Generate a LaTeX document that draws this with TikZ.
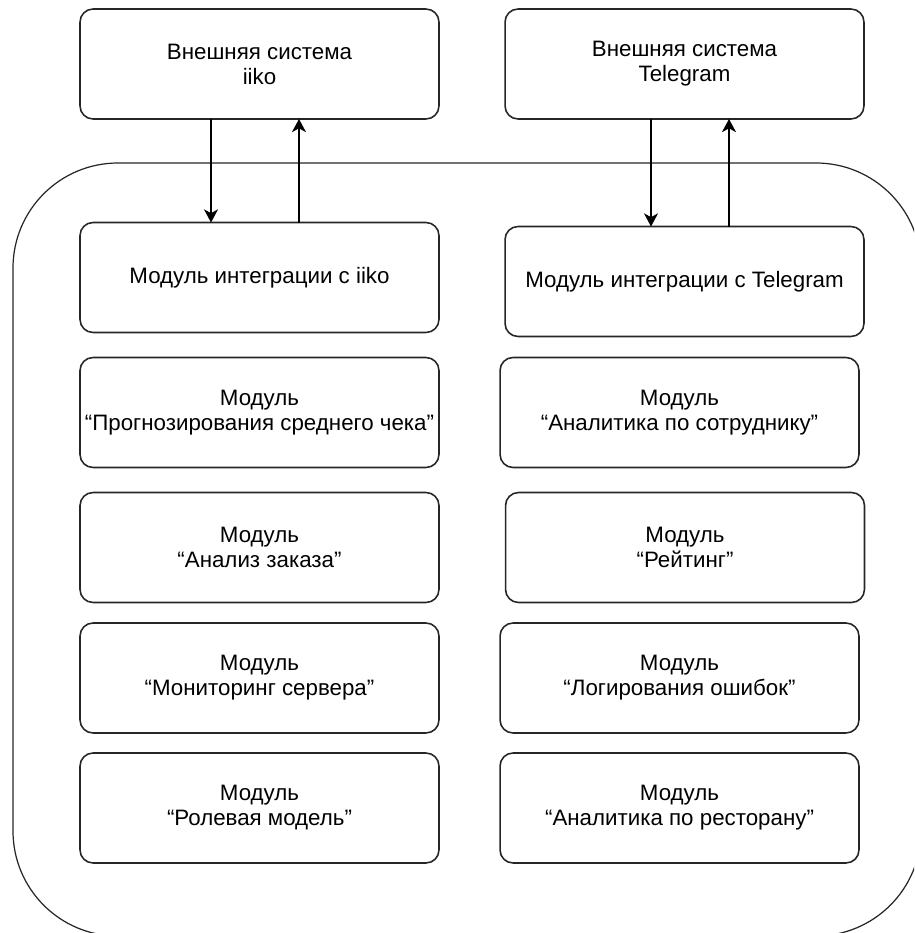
\documentclass[tikz,border=0pt]{standalone}
\usepackage{fontspec}
\setmainfont{Liberation Sans}
\usetikzlibrary{arrows.meta}
\begin{document}
\begin{tikzpicture}
[x=0.02cm,y=-0.02cm,
box/.style={draw=black!85,line width=0.9pt,rounded corners=0.26cm,minimum width=7.18cm,minimum height=2.2cm,align=center,inner sep=0pt,outer sep=0pt,font=\fontsize{12.7}{14.2}\selectfont},
flow/.style={-{Stealth[length=7.5pt,width=8pt,inset=2.2pt]},line width=0.8pt},
frame/.style={draw=black!85,line width=0.7pt,rounded corners=2.1cm}]
\useasboundingbox (0,0) rectangle (914,933);
\clip (0,0) rectangle (914,933);
%system
	\draw[frame] (13,163) rectangle (921,936);
%external systems
	\node[box] (iikoSys) at (259.5,64) {Внешняя система\\iiko};
	\node[box] (tgSys) at (684.5,64) {Внешняя система\\Telegram};
%integration
	\node[box] (iikoInt) at (259.5,277.5) {Модуль интеграции с iiko};
	\node[box] (tgInt) at (684.5,281.5) {Модуль интеграции с Telegram};
%links
	\draw[flow] ([xshift=-0.97cm]iikoSys.south) -- ([xshift=-0.97cm]iikoInt.north);
	\draw[flow] ([xshift=0.79cm]iikoInt.north) -- ([xshift=0.79cm]iikoSys.south);
	\draw[flow] ([xshift=-0.67cm]tgSys.south) -- ([xshift=-0.67cm]tgInt.north);
	\draw[flow] ([xshift=0.89cm]tgInt.north) -- ([xshift=0.89cm]tgSys.south);
%modules
\foreach \nm / \x / \y / \txt in {forecast/259.5/412.5/{Прогнозирования среднего чека},
	order/259.5/547.5/{Анализ заказа},
	server/259.5/678/{Мониторинг сервера},
	roles/259.5/808/{Ролевая модель},
	staff/679.5/412.5/{Аналитика по сотруднику},
	rating/685/547.5/{Рейтинг},
	errlog/679.5/678/{Логирования ошибок},
	place/679.5/808/{Аналитика по ресторану}}
{
	\node[box] (\nm) at (\x,\y) {Модуль\\“\txt”};
}
\end{tikzpicture}
\end{document}
